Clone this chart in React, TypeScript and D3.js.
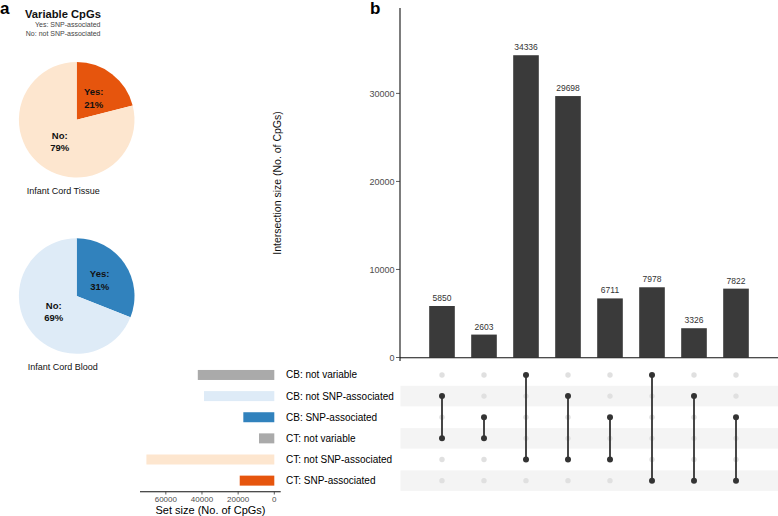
import React from "react";
import * as d3 from "d3";

const FONT = "'Liberation Sans', Arial, Helvetica, sans-serif";

// Pie data
const pieLabels = ["Yes", "No"];
const ctPercents = [21, 79];
const cbPercents = [31, 69];
const ctPieColors = ["#e6550d", "#fde6cf"];
const cbPieColors = ["#3182bd", "#deebf7"];

// Sets (matrix rows, top to bottom)
const setNames = [
  "CB: not variable",
  "CB: not SNP-associated",
  "CB: SNP-associated",
  "CT: not variable",
  "CT: not SNP-associated",
  "CT: SNP-associated",
];
const setSizes = [42314, 38874, 17136, 8453, 70745, 19126];
const setColors = ["#aaaaaa", "#deebf7", "#3182bd", "#aaaaaa", "#fde6cf", "#e6550d"];

// Intersections
const intersectionSizes = [5850, 2603, 34336, 29698, 6711, 7978, 3326, 7822];
const intersectionMembers = [
  [1, 3],
  [2, 3],
  [0, 4],
  [1, 4],
  [2, 4],
  [0, 5],
  [1, 5],
  [2, 5],
];
const yTicks = [0, 10000, 20000, 30000];
const setTicks = [60000, 40000, 20000, 0];

function Pie({ cx, cy, r, percents, colors, caption, capX, capY }: any) {
  const pie = d3.pie<number>().sort(null).value((d) => d);
  const arcs = pie(percents);
  const arc = d3.arc<any>().innerRadius(0).outerRadius(r);
  return (
    <g>
      <g transform={`translate(${cx},${cy})`}>
        {arcs.map((a, i) => (
          <path key={i} d={arc(a) as string} fill={colors[i]} />
        ))}
        {arcs.map((a, i) => {
          const mid = (a.startAngle + a.endAngle) / 2;
          const lr = r * 0.48;
          const x = Math.sin(mid) * lr;
          const y = -Math.cos(mid) * lr;
          return (
            <g key={"l" + i} fontFamily={FONT} fontSize={9.5} fontWeight="bold" fill="#111" textAnchor="middle">
              <text x={x} y={y - 6.3} dy="0.35em">{pieLabels[i] + ":"}</text>
              <text x={x} y={y + 6.3} dy="0.35em">{percents[i] + "%"}</text>
            </g>
          );
        })}
      </g>
      <text x={capX} y={capY} dy="0.35em" fontFamily={FONT} fontSize={9} fill="#111">
        {caption}
      </text>
    </g>
  );
}

export default function App() {
  const W = 778;
  const H = 516;

  // Intersection bar chart
  const x = d3
    .scaleBand<number>()
    .domain(intersectionSizes.map((_, i) => i))
    .range([421, 757])
    .paddingInner(0.39)
    .paddingOuter(0.195);
  const y = d3.scaleLinear().domain([0, 39700]).range([357.5, 8]);

  // Matrix rows
  const row = d3
    .scaleBand<number>()
    .domain(setNames.map((_, i) => i))
    .range([364.4, 491.2]);

  // Set-size bars (reversed)
  const sx = d3.scaleLinear().domain([74282, -3537]).range([140, 280.7]);
  const barH = 10;

  return (
    <svg width={W} height={H} style={{ position: "absolute", left: 0, top: 0 }} fontFamily={FONT}>
      <rect width={W} height={H} fill="#fff" />

      {/* panel a */}
      <text x={0} y={14} fontSize={17} fontWeight="bold" fill="#000">a</text>
      <text x={25} y={14} dy="0.35em" fontSize={11.2} fontWeight="bold" fill="#111">Variable CpGs</text>
      <text x={100.5} y={25} dy="0.35em" fontSize={7} fill="#444" textAnchor="end">Yes: SNP-associated</text>
      <text x={100.5} y={33.5} dy="0.35em" fontSize={7} fill="#444" textAnchor="end">No: not SNP-associated</text>

      <Pie cx={76.7} cy={119.8} r={57.8} percents={ctPercents} colors={ctPieColors}
        caption="Infant Cord Tissue" capX={26.7} capY={191.3} />
      <Pie cx={76.7} cy={296} r={57.8} percents={cbPercents} colors={cbPieColors}
        caption="Infant Cord Blood" capX={27.7} capY={366.7} />

      {/* panel b */}
      <text x={370} y={14} fontSize={17} fontWeight="bold" fill="#000">b</text>

      {/* y axis */}
      <line x1={400} x2={400} y1={8} y2={361} stroke="#111" strokeWidth={1.1} />
      {yTicks.map((t) => (
        <g key={t}>
          <line x1={396} x2={400} y1={y(t)} y2={y(t)} stroke="#333" strokeWidth={0.8} />
          <text x={394.5} y={y(t)} dy="0.35em" textAnchor="end" fontSize={9} fill="#4d4d4d">{t}</text>
        </g>
      ))}
      <text
        transform={`translate(277,183) rotate(-90)`}
        textAnchor="middle"
        dy="0.35em"
        fontSize={10.5}
        fill="#111"
      >
        Intersection size (No. of CpGs)
      </text>

      {/* bars */}
      {intersectionSizes.map((v, i) => (
        <g key={i}>
          <rect x={x(i)} y={y(v)} width={x.bandwidth()} height={y(0) - y(v)} fill="#3a3a3a" />
          <text x={(x(i) as number) + x.bandwidth() / 2} y={y(v) - 5} textAnchor="middle" fontSize={8.5} fill="#333">
            {v}
          </text>
        </g>
      ))}
      <line x1={400} x2={778} y1={357.8} y2={357.8} stroke="#111" strokeWidth={1.1} />

      {/* matrix stripes */}
      {setNames.map((_, r) =>
        r % 2 === 1 ? (
          <rect key={r} x={400.5} y={(row(r) as number) + 0.3} width={378} height={row.bandwidth() - 0.6} fill="#f4f4f4" />
        ) : null
      )}
      {/* matrix dots */}
      {intersectionSizes.map((_, i) => {
        const cx = (x(i) as number) + x.bandwidth() / 2;
        const mem = intersectionMembers[i];
        const ys = mem.map((m) => (row(m) as number) + row.bandwidth() / 2);
        return (
          <g key={i}>
            {setNames.map((_, r) =>
              mem.includes(r) ? null : (
                <circle key={r} cx={cx} cy={(row(r) as number) + row.bandwidth() / 2} r={2.7} fill="#e0e0e0" />
              )
            )}
            <line x1={cx} x2={cx} y1={d3.min(ys)} y2={d3.max(ys)} stroke="#333" strokeWidth={1.8} />
            {ys.map((yy, k) => (
              <circle key={"d" + k} cx={cx} cy={yy} r={3} fill="#333" />
            ))}
          </g>
        );
      })}

      {/* set labels */}
      {setNames.map((n, r) => (
        <text key={n} x={286} y={(row(r) as number) + row.bandwidth() / 2} dy="0.35em" fontSize={10} fill="#000">
          {n}
        </text>
      ))}

      {/* set size bars */}
      {setSizes.map((v, r) => (
        <rect
          key={r}
          x={sx(v)}
          y={(row(r) as number) + row.bandwidth() / 2 - barH / 2}
          width={sx(0) - sx(v)}
          height={barH}
          fill={setColors[r]}
        />
      ))}
      <line x1={140} x2={280.7} y1={491.7} y2={491.7} stroke="#111" strokeWidth={1.1} />
      {setTicks.map((t) => (
        <g key={t}>
          <line x1={sx(t)} x2={sx(t)} y1={491.7} y2={494.5} stroke="#333" strokeWidth={0.8} />
          <text x={sx(t)} y={499.5} dy="0.35em" textAnchor="middle" fontSize={8} fill="#4d4d4d">{t}</text>
        </g>
      ))}
      <text x={210.5} y={510} dy="0.35em" textAnchor="middle" fontSize={11} fill="#000">
        Set size (No. of CpGs)
      </text>
    </svg>
  );
}
